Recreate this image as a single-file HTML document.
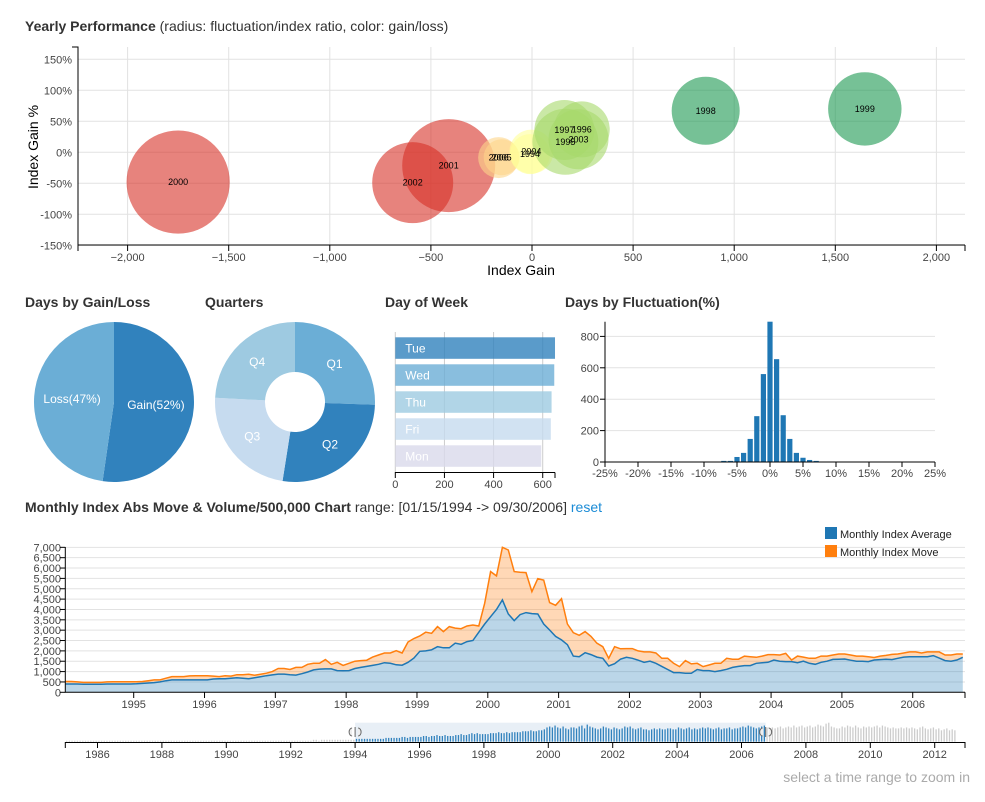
<!DOCTYPE html>
<html><head><meta charset="utf-8">
<style>
body{margin:0;background:#fff;font-family:"Liberation Sans",sans-serif;}
svg text{font-family:"Liberation Sans",sans-serif;}
.t{font-size:14px;font-weight:bold;fill:#333}
.tn{font-size:14px;fill:#333;font-weight:normal}
.tk{font-size:11px;fill:#444}
.grid{stroke:#e2e2e2;stroke-width:1}
.ax{stroke:#000;stroke-width:1;fill:none}
</style></head>
<body>
<svg id="s" width="985" height="797" xmlns="http://www.w3.org/2000/svg">
<text x="25" y="31" class="t">Yearly Performance <tspan class="tn">(radius: fluctuation/index ratio, color: gain/loss)</tspan></text>
<text x="25" y="307" class="t">Days by Gain/Loss</text>
<text x="205" y="307" class="t">Quarters</text>
<text x="385" y="307" class="t">Day of Week</text>
<text x="565" y="307" class="t">Days by Fluctuation(%)</text>
<text x="25" y="512" class="t">Monthly Index Abs Move &amp; Volume/500,000 Chart <tspan class="tn">range: [01/15/1994 -&gt; 09/30/2006]</tspan> <tspan style="fill:#1a8bd6;font-weight:normal">reset</tspan></text>
<text x="970" y="782" text-anchor="end" style="font-size:14px;fill:#aaa">select a time range to zoom in</text>
<g id="bubble"></g>
<g id="pie"></g>
<g id="donut"></g>
<g id="rows"></g>
<g id="hist"></g>
<g id="area"></g>
<g id="range"></g>
</svg>
<script>
// ---------- data ----------
const bubbleYears=[2000,2001,2002,2005,2006,1994,2004,1995,1997,1996,2003,1998,1999];
const bubbleGain=[-1750,-412,-590,-150,-165,-10,-3,165,160,246,230,859,1646];
const bubblePct=[-48,-21.5,-49,-8,-8.5,-3,1,17,36,37,21,67,70];
const bubbleRadius=[51.6,46.5,40.5,18,20.5,20,22,33,30,28,30,34,36.7];
const bubbleXTicks=[-2000,-1500,-1000,-500,0,500,1000,1500,2000];
const bubbleYTicks=[-150,-100,-50,0,50,100,150];

const pieLabels=["Gain","Loss"];
const pieValues=[1656,1512];
const quarterLabels=["Q1","Q2","Q3","Q4"];
const quarterValues=[820,865,750,775];

const dayLabels=["Tue","Wed","Thu","Fri","Mon"];
const dayValues=[650,647,636,633,594];
const dayTicks=[0,200,400,600];

const histBins=[-7,-6,-5,-4,-3,-2,-1,0,1,2,3,4,5,6,7];
const histCounts=[7,7,32,58,147,292,560,900,655,298,147,58,27,13,7];
const histXTicks=[-25,-20,-15,-10,-5,0,5,10,15,20,25];
const histYTicks=[0,200,400,600,800];

const avgSeries=[
400,400,400,390,390,390,390,400,400,400,400,400,
410,430,450,470,500,560,600,600,600,600,600,600,
600,640,650,650,680,700,680,650,700,750,800,840,
880,880,850,830,900,980,1080,1120,1130,1130,1050,1040,
1050,1150,1200,1250,1300,1350,1430,1400,1330,1310,1450,1650,
1980,2000,2050,2200,2150,2150,2370,2320,2450,2500,2900,3300,
3650,4000,4460,3780,3460,3750,3850,3800,3780,3300,3010,2700,
2530,2300,1750,1720,1910,1820,1700,1640,1270,1380,1600,1690,
1640,1550,1450,1500,1400,1250,1100,950,950,920,920,1100,
1050,1050,1000,1050,1110,1200,1250,1290,1290,1400,1430,1450,
1560,1500,1480,1480,1430,1500,1400,1350,1450,1500,1590,1600,
1610,1550,1500,1500,1480,1560,1580,1600,1580,1640,1700,1720,
1720,1720,1720,1770,1650,1530,1500,1560,1690];
const moveStackedTop=[
520,520,500,480,480,480,480,500,510,510,510,510,
510,520,560,600,600,680,760,760,760,790,800,800,
800,780,760,800,780,850,850,870,820,870,920,1000,
1150,1150,1100,1200,1200,1350,1400,1400,1580,1350,1450,1300,
1400,1500,1530,1550,1700,1800,1900,1900,2010,1900,2430,2600,
2720,2900,2850,3170,2930,3170,3100,3070,3200,3250,3200,4300,
5830,5620,7000,6870,5830,5800,5780,4860,5490,5420,4330,4200,
4520,3300,2880,2750,2930,2700,2370,2200,1640,2200,2100,2110,
2110,2000,1950,1950,1900,1640,1640,1400,1240,1530,1370,1400,
1240,1320,1400,1400,1640,1600,1600,1750,1720,1690,1750,1820,
1820,1800,1880,1560,1750,1700,1640,1640,1750,1750,1800,1850,
1850,1800,1750,1750,1720,1680,1750,1780,1830,1850,1900,1950,
1950,1900,1950,1950,1950,1800,1800,1850,1850];
const areaYTicks=[0,500,1000,1500,2000,2500,3000,3500,4000,4500,5000,5500,6000,6500,7000];
const areaXTicks=[1995,1996,1997,1998,1999,2000,2001,2002,2003,2004,2005,2006];

const volumeSeries=[
1,1,1,1,1,1,1,1,1,1,1,1, 1,1,1,1,1,1,1,1,1,1,1,1, 1,1,1,1,1,1,1,1,1,1,1,1,
1,1,1,1,1,1,1,1,1,1,1,1, 1,1,1,1,1,1,1,1,1,1,1,1, 1,1,1,1,1,1,1,1,1,1,1,1,
1,1,1,1,1,1,1,1,1,1,1,1, 1,1,1,1,1,1,1,1,2,2,1,2, 2,2,2,2,2,2,2,2,2,2,2,2,
3,3,3,3,3,3,3,3,3,3,3,4, 4,4,4,4,4,5,5,4,5,5,5,5, 5,6,6,5,6,6,7,6,6,7,6,6,
6,7,7,8,7,7,8,9,8,9,8,8, 8,8,9,9,9,10,9,9,10,9,10,10, 10,10,11,11,11,12,11,11,12,12,13,15,
16,15,17,15,14,16,14,13,15,15,14,16, 17,14,18,16,15,14,13,14,16,15,14,13, 15,14,13,14,16,15,16,14,13,14,15,13,
13,12,13,14,13,14,13,13,14,14,13,13, 15,14,13,14,15,13,14,13,14,15,14,15, 14,13,14,15,13,14,14,15,13,14,14,15,
16,15,17,16,15,14,15,16,17,15,14,15, 14,15,16,14,15,16,15,17,15,16,17,15, 16,17,15,16,18,17,16,19,20,16,15,14,
14,16,15,17,16,15,17,15,14,16,15,16, 15,16,17,15,17,16,15,14,15,14,14,15, 14,15,14,15,14,13,15,16,14,13,14,15,
13,14,12,13,14,12,13,12];
const rangeXTicks=[1986,1988,1990,1992,1994,1996,1998,2000,2002,2004,2006,2008,2010,2012];
const brushStart=1994.0, brushEnd=2006.75;

// ---------- helpers ----------
const NS="http://www.w3.org/2000/svg";
function mk(parent,tag,attrs,text){const e=document.createElementNS(NS,tag);for(const k in attrs)e.setAttribute(k,attrs[k]);if(text!==undefined)e.textContent=text;parent.appendChild(e);return e;}
const fmt=v=>v.toLocaleString('en-US');

// ---------- bubble ----------
(function(){
const g=document.getElementById('bubble');
const X0=78,X1=965,Y0=47,Y1=245;
const xs=v=>532+v*0.2022, ys=v=>152.3-v*0.62;
bubbleYTicks.forEach(t=>{const l=mk(g,'line',{x1:X0,x2:X1,y1:ys(t),y2:ys(t),class:'grid'});
 const tx=mk(g,'text',{x:X0-6,y:ys(t)+4,'text-anchor':'end',class:'tk'},t+'%');});
bubbleXTicks.forEach(t=>{const l=mk(g,'line',{x1:xs(t),x2:xs(t),y1:Y0,y2:Y1,class:'grid'});
 const tx=mk(g,'text',{x:xs(t),y:Y1+16,'text-anchor':'middle',class:'tk'},t===0?'0':(t<0?'\u2212'+fmt(-t):fmt(t)));
 mk(g,'line',{x1:xs(t),x2:xs(t),y1:Y1,y2:Y1+6,stroke:'#000'});});
const color=v=>v<-300?'#d73027':v<-100?'#fed58a':v<50?'#ffff99':v<500?'#a6d96a':'#1a9850';
bubbleYears.forEach((yr,i)=>{const c=mk(g,'circle',{cx:xs(bubbleGain[i]),cy:ys(bubblePct[i]),r:bubbleRadius[i],fill:color(bubbleGain[i]),'fill-opacity':0.6});
 });
bubbleYears.forEach((yr,i)=>{const t=mk(g,'text',{x:xs(bubbleGain[i]),y:ys(bubblePct[i])+3,'text-anchor':'middle',style:'font-size:9px;fill:#000'},yr);
 });
mk(g,'path',{d:`M${X0-6},${Y0}H${X0}V${Y1}H${X1}M${X1},${Y1}V${Y1+6}M${X0},${Y1}V${Y1+6}`,class:'ax'});
const xl=mk(g,'text',{x:521,y:275,'text-anchor':'middle',style:'font-size:14px;fill:#000'},'Index Gain');
const yl=mk(g,'text',{x:0,y:0,transform:'translate(38,147) rotate(-90)','text-anchor':'middle',style:'font-size:14px;fill:#000'},'Index Gain %');
})();

// ---------- pies ----------
function arcPath(cx,cy,r0,r1,a0,a1){const p=(r,a)=>[cx+r*Math.sin(a),cy-r*Math.cos(a)];const lg=(a1-a0)>Math.PI?1:0;
 const [x0,y0]=p(r1,a0),[x1,y1]=p(r1,a1);
 if(r0===0)return `M${cx},${cy}L${x0},${y0}A${r1},${r1} 0 ${lg} 1 ${x1},${y1}Z`;
 const [x2,y2]=p(r0,a1),[x3,y3]=p(r0,a0);
 return `M${x0},${y0}A${r1},${r1} 0 ${lg} 1 ${x1},${y1}L${x2},${y2}A${r0},${r0} 0 ${lg} 0 ${x3},${y3}Z`;}
function pie(id,labels,values,colors,cx,cy,r0,r1,lr,labelFn){const g=document.getElementById(id);const tot=values.reduce((a,b)=>a+b,0);let a=0;
 values.forEach((v,i)=>{const a1=a+v/tot*2*Math.PI;const p=mk(g,'path',{d:arcPath(cx,cy,r0,r1,a,a1),fill:colors[i]});
  
  const m=(a+a1)/2;const t=mk(g,'text',{x:cx+lr*Math.sin(m),y:cy-lr*Math.cos(m)+4,'text-anchor':'middle',style:'font-size:12px;fill:#fff'},labelFn(labels[i],v,tot));
  a=a1;});}
pie('pie',pieLabels,pieValues,['#3182bd','#6baed6'],114,402,0,80,42,(l,v,t)=>l+'('+Math.floor(v/t*100)+'%)');
pie('donut',quarterLabels,quarterValues,['#6baed6','#3182bd','#c6dbef','#9ecae1'],295,402,30,80,55,(l)=>l);

// ---------- rows ----------
(function(){const g=document.getElementById('rows');const xs=v=>395.3+v*0.2457;const cols=['#3182bd','#6baed6','#9ecae1','#c6dbef','#dadaeb'];
 dayTicks.forEach(t=>{mk(g,'line',{x1:xs(t),x2:xs(t),y1:332,y2:472,stroke:'#ccc'});
  const tx=mk(g,'text',{x:xs(t),y:488,'text-anchor':'middle',class:'tk'},t);
  mk(g,'line',{x1:xs(t),x2:xs(t),y1:472,y2:478,stroke:'#000'});});
 dayLabels.forEach((d,i)=>{const y=337.3+i*27;const r=mk(g,'rect',{x:xs(0),y:y,width:xs(dayValues[i])-xs(0),height:21.5,fill:cols[i],'fill-opacity':0.8});
  
  const t=mk(g,'text',{x:xs(0)+10,y:y+15,style:'font-size:12px;fill:#fff'},d);});
 mk(g,'path',{d:'M395.3,472.5H555M555,472.5V478',class:'ax'});})();

// ---------- histogram ----------
(function(){const g=document.getElementById('hist');const xs=v=>770+v*6.6, ys=v=>Math.max(462-v*0.157,321.7);
 histYTicks.forEach(t=>{if(t>0)mk(g,'line',{x1:605,x2:935,y1:462-t*0.157,y2:462-t*0.157,class:'grid'});
  const tx=mk(g,'text',{x:599,y:462-t*0.157+4,'text-anchor':'end',class:'tk'},t);
  mk(g,'line',{x1:600,x2:605,y1:462-t*0.157,y2:462-t*0.157,stroke:'#000'});});
 histXTicks.forEach(t=>{const tx=mk(g,'text',{x:xs(t),y:477,'text-anchor':'middle',class:'tk'},t+'%');
  mk(g,'line',{x1:xs(t),x2:xs(t),y1:462,y2:467,stroke:'#000'});});
 histBins.forEach((b,i)=>{const r=mk(g,'rect',{x:xs(b)-2.6,y:ys(histCounts[i]),width:5.2,height:462-ys(histCounts[i]),fill:'#1f77b4'});
  });
 mk(g,'path',{d:'M605,321.7V462H935',class:'ax'});})();

// ---------- area chart ----------
(function(){const g=document.getElementById('area');
 const ppy=70.82; const xs=t=>133.7+(t-1995)*ppy; const ys=v=>692.3-v*0.02071;
 const tm=i=>1994+i/12+0.04;
 areaYTicks.forEach(t=>{if(t>0)mk(g,'line',{x1:65.3,x2:965,y1:ys(t),y2:ys(t),class:'grid'});
  const tx=mk(g,'text',{x:61,y:ys(t)+4,'text-anchor':'end',class:'tk'},fmt(t));
  mk(g,'line',{x1:60,x2:65.3,y1:ys(t),y2:ys(t),stroke:'#000'});});
 let top='',blue='';
 avgSeries.forEach((v,i)=>{blue+=(i?'L':'M')+xs(tm(i)).toFixed(1)+','+ys(v).toFixed(1);});
 moveStackedTop.forEach((v,i)=>{top+=(i?'L':'M')+xs(tm(i)).toFixed(1)+','+ys(v).toFixed(1);});
 const n=avgSeries.length;let rev='';for(let i=n-1;i>=0;i--)rev+='L'+xs(tm(i)).toFixed(1)+','+ys(avgSeries[i]).toFixed(1);
 const a1=mk(g,'path',{d:blue+`L${xs(tm(n-1))},${ys(0)}L${xs(tm(0))},${ys(0)}Z`,fill:'#1f77b4','fill-opacity':0.3});
 const a2=mk(g,'path',{d:top+rev+'Z',fill:'#ff7f0e','fill-opacity':0.3});
 const l1=mk(g,'path',{d:blue,fill:'none',stroke:'#1f77b4','stroke-width':1.5});
 const l2=mk(g,'path',{d:top,fill:'none',stroke:'#ff7f0e','stroke-width':1.5});
 areaXTicks.forEach(t=>{const tx=mk(g,'text',{x:xs(t),y:708,'text-anchor':'middle',class:'tk'},t);
  mk(g,'line',{x1:xs(t),x2:xs(t),y1:692.3,y2:698,stroke:'#000'});});
 mk(g,'path',{d:'M65.3,547V692.3H965M965,692.3V698',class:'ax'});
 const lg=mk(g,'g',{});
 [['Monthly Index Average','#1f77b4'],['Monthly Index Move','#ff7f0e']].forEach((e,i)=>{const it=mk(lg,'g',{});
  mk(it,'rect',{x:825,y:527+i*18,width:12,height:12,fill:e[1]});mk(it,'text',{x:840,y:538+i*18,style:'font-size:11px;fill:#222'},e[0]);});})();

// ---------- range chart ----------
(function(){const g=document.getElementById('range');const xs=t=>65.3+(t-1985)*32.2; const base=741.7;
 const br=mk(g,'rect',{x:xs(brushStart),y:722.7,width:xs(brushEnd)-xs(brushStart),height:19,fill:'#4682b4','fill-opacity':0.125});
 
 volumeSeries.forEach((v,i)=>{const t=1985+(i+0.5)/12;const inside=t>=brushStart&&t<=brushEnd;
  const r=mk(g,'rect',{x:xs(t)-0.6,y:base-v*0.95,width:1.3,height:v*0.95,fill:inside?'#3182bd':'#ccc'});
  });
 [brushStart,brushEnd].forEach(t=>{const h=mk(g,'path',{d:`M${xs(t)-3},728a3,4 0 0 0 0,8M${xs(t)+3},728a3,4 0 0 1 0,8M${xs(t)},727V737`,fill:'#eee',stroke:'#666','stroke-width':1});
  });
 rangeXTicks.forEach(t=>{const tx=mk(g,'text',{x:xs(t),y:758,'text-anchor':'middle',class:'tk'},t);
  mk(g,'line',{x1:xs(t),x2:xs(t),y1:742,y2:748,stroke:'#000'});});
 mk(g,'path',{d:'M65.3,748V742.5H965V748',class:'ax'});})();
</script>
</body></html>
